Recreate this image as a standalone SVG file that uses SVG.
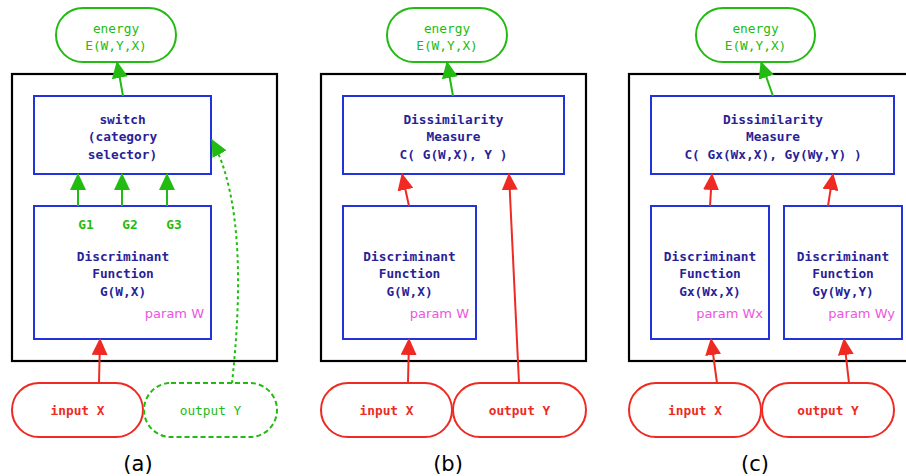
<svg xmlns="http://www.w3.org/2000/svg" width="906" height="476" viewBox="0 0 906 476">
<style>
.bg{fill:#fff}
.outer{fill:none;stroke:#000;stroke-width:2.2}
.box{fill:#fff;stroke:#2233dd;stroke-width:2}
.pg{fill:#fff;stroke:#22bb11;stroke-width:2}
.pr{fill:#fff;stroke:#ee2a22;stroke-width:2}
.pgd{fill:#fff;stroke:#22bb11;stroke-width:2;stroke-dasharray:5,3}
.t{font-family:"DejaVu Sans Mono","Liberation Mono",monospace;font-size:12.8px;text-anchor:middle}
.b{font-weight:bold}
.nv{fill:#2a1f96}
.gt{fill:#22bb11}
.rt{fill:#ee2a22}
.pm{font-family:"DejaVu Sans","Liberation Sans",sans-serif;font-size:13px;fill:#ee55e0;text-anchor:end}
.lab{font-family:"DejaVu Sans","Liberation Sans",sans-serif;font-size:21px;fill:#000;text-anchor:middle}
.cg{stroke:#22bb11;stroke-width:2;fill:none;marker-end:url(#ag)}
.cr{stroke:#ee2a22;stroke-width:2;fill:none;marker-end:url(#ar)}
.cd{stroke:#22bb11;stroke-width:2;fill:none;stroke-dasharray:3,3;marker-end:url(#ag)}
</style>
<defs>
<marker id="ag" viewBox="0 0 17 16" refX="16" refY="8" markerWidth="17" markerHeight="16" markerUnits="userSpaceOnUse" orient="auto"><path d="M0,0 L17,8 L0,16 z" fill="#22bb11"/></marker>
<marker id="ar" viewBox="0 0 17 16" refX="16" refY="8" markerWidth="17" markerHeight="16" markerUnits="userSpaceOnUse" orient="auto"><path d="M0,0 L17,8 L0,16 z" fill="#ee2a22"/></marker>
</defs>
<rect class="bg" x="0" y="0" width="906" height="476"/>

<!-- Panel (a) -->
<g id="a-frame"><rect class="outer" x="12" y="74" width="265" height="287"/></g>
<g id="a-energy"><rect class="pg" x="56" y="8" width="120" height="54" rx="27"/>
<text class="t gt" x="116" y="32.5">energy</text><text class="t gt" x="116" y="49.5">E(W,Y,X)</text></g>
<g id="a-switch"><rect class="box" x="34" y="96" width="177" height="78"/>
<text class="t b nv" x="122.5" y="123.5">switch</text><text class="t b nv" x="122.5" y="141">(category</text><text class="t b nv" x="122.5" y="158.5">selector)</text></g>
<g id="a-disc"><rect class="box" x="34" y="206" width="177" height="133"/>
<text class="t b gt" x="86" y="228.5">G1</text><text class="t b gt" x="130" y="228.5">G2</text><text class="t b gt" x="174" y="228.5">G3</text>
<text class="t b nv" x="123" y="260.5">Discriminant</text><text class="t b nv" x="123" y="278">Function</text><text class="t b nv" x="123" y="296">G(W,X)</text>
<text class="pm" x="204" y="317.5">param W</text></g>
<g id="a-input"><rect class="pr" x="12" y="383" width="131" height="54" rx="27"/><text class="t b rt" x="77.5" y="414.5">input X</text></g>
<g id="a-output"><rect class="pgd" x="144" y="383" width="133" height="54" rx="27"/><text class="t gt" x="210.5" y="414.5">output Y</text></g>
<g id="a-label"><text class="lab" x="138" y="471">(a)</text></g>

<!-- Panel (b) -->
<g id="b-frame"><rect class="outer" x="321" y="74" width="265" height="287"/></g>
<g id="b-energy"><rect class="pg" x="387" y="8" width="120" height="54" rx="27"/>
<text class="t gt" x="447" y="32.5">energy</text><text class="t gt" x="447" y="49.5">E(W,Y,X)</text></g>
<g id="b-dissim"><rect class="box" x="343" y="96" width="221" height="78"/>
<text class="t b nv" x="453.5" y="123.5">Dissimilarity</text><text class="t b nv" x="453.5" y="141">Measure</text><text class="t b nv" x="453.5" y="158.5">C( G(W,X), Y )</text></g>
<g id="b-disc"><rect class="box" x="343" y="206" width="133" height="133"/>
<text class="t b nv" x="409.5" y="260.5">Discriminant</text><text class="t b nv" x="409.5" y="278">Function</text><text class="t b nv" x="409.5" y="296">G(W,X)</text>
<text class="pm" x="469" y="317.5">param W</text></g>
<g id="b-input"><rect class="pr" x="321" y="383" width="131" height="54" rx="27"/><text class="t b rt" x="386.5" y="414.5">input X</text></g>
<g id="b-output"><rect class="pr" x="453" y="383" width="133" height="54" rx="27"/><text class="t b rt" x="519.5" y="414.5">output Y</text></g>
<g id="b-label"><text class="lab" x="448" y="471">(b)</text></g>

<!-- Panel (c) -->
<g id="c-frame"><rect class="outer" x="629" y="74" width="290" height="287"/></g>
<g id="c-energy"><rect class="pg" x="696" y="8" width="119" height="54" rx="27"/>
<text class="t gt" x="755.5" y="32.5">energy</text><text class="t gt" x="755.5" y="49.5">E(W,Y,X)</text></g>
<g id="c-dissim"><rect class="box" x="651" y="96" width="243" height="78"/>
<text class="t b nv" x="773" y="123.5">Dissimilarity</text><text class="t b nv" x="773" y="141">Measure</text><text class="t b nv" x="773" y="158.5">C( Gx(Wx,X), Gy(Wy,Y) )</text></g>
<g id="c-gx"><rect class="box" x="651" y="206" width="118" height="133"/>
<text class="t b nv" x="710" y="260.5">Discriminant</text><text class="t b nv" x="710" y="278">Function</text><text class="t b nv" x="710" y="296">Gx(Wx,X)</text>
<text class="pm" x="763" y="317.5">param Wx</text></g>
<g id="c-gy"><rect class="box" x="784" y="206" width="118" height="133"/>
<text class="t b nv" x="843" y="260.5">Discriminant</text><text class="t b nv" x="843" y="278">Function</text><text class="t b nv" x="843" y="296">Gy(Wy,Y)</text>
<text class="pm" x="895" y="317.5">param Wy</text></g>
<g id="c-input"><rect class="pr" x="629" y="383" width="132" height="54" rx="27"/><text class="t b rt" x="695" y="414.5">input X</text></g>
<g id="c-output"><rect class="pr" x="762" y="383" width="132" height="54" rx="27"/><text class="t b rt" x="828" y="414.5">output Y</text></g>
<g id="c-label"><text class="lab" x="755" y="471">(c)</text></g>

<!-- Connectors -->
<g id="connectors">
<line class="cg" x1="123" y1="96" x2="117" y2="62"/>
<line class="cg" x1="78" y1="206" x2="78" y2="174"/>
<line class="cg" x1="122" y1="206" x2="122" y2="174"/>
<line class="cg" x1="167" y1="206" x2="167" y2="174"/>
<line class="cr" x1="99" y1="383" x2="100" y2="339"/>
<path class="cd" d="M232,383 C241,300 244,200 212,140"/>

<line class="cg" x1="453" y1="96" x2="447" y2="62"/>
<line class="cr" x1="409" y1="206" x2="402" y2="174"/>
<line class="cr" x1="519" y1="383" x2="509" y2="174"/>
<line class="cr" x1="408" y1="383" x2="409" y2="339"/>

<line class="cg" x1="773" y1="96" x2="761" y2="62"/>
<line class="cr" x1="710" y1="206" x2="712" y2="174"/>
<line class="cr" x1="828" y1="206" x2="833" y2="174"/>
<line class="cr" x1="717" y1="383" x2="711" y2="339"/>
<line class="cr" x1="849" y1="383" x2="844" y2="339"/>
</g>
</svg>
